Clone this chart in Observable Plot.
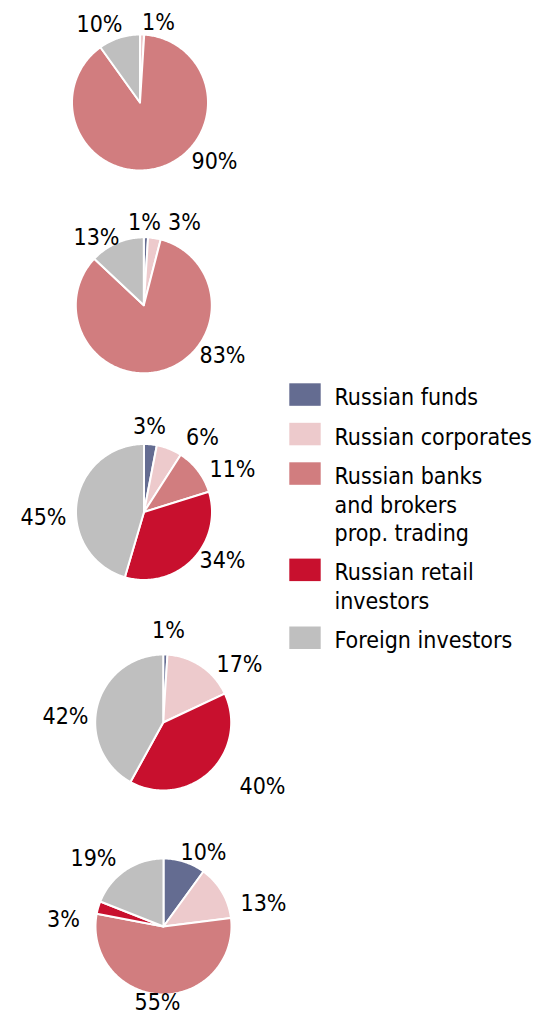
<!DOCTYPE html>
<html><head><meta charset="utf-8">
<script src="https://cdn.jsdelivr.net/npm/d3@7"></script>
<script src="https://cdn.jsdelivr.net/npm/@observablehq/plot@0.6"></script>
<style>
html,body{margin:0;padding:0;background:#fff;}
#chart svg{display:block;font-stretch:condensed;}
</style></head><body><div id="chart"></div>
<script>
// ---- data ----
const categories = ["Russian funds", "Russian corporates", "Russian banks and brokers prop. trading", "Russian retail investors", "Foreign investors"];
const legendLabels = ["Russian funds", "Russian corporates", "Russian banks\nand brokers\nprop. trading", "Russian retail\ninvestors", "Foreign investors"];
const colors = ["#646c91", "#edcacc", "#d17d7f", "#c8102e", "#bfbfbf"];
const pie1 = [0, 1, 90, 0, 10];
const pie2 = [1, 3, 83, 0, 13];
const pie3 = [3, 6, 11, 34, 45];
const pie4 = [1, 17, 0, 40, 42];
const pie5 = [10, 13, 55, 3, 19];
const pies = [pie1, pie2, pie3, pie4, pie5];

// ---- layout ----
const W = 537, H = 1016, R = 68;
const FONT = "'DejaVu Sans Condensed', 'DejaVu Sans', sans-serif";
const centers = [[139.5, 102], [143.3, 304.8], [143.5, 511.5], [162.7, 722], [163, 926]];
const labelOffsets = [
  [null, [18.5, -80], [74.5, 59], null, [-40.5, -78]],
  [[0.7, -82.8], [40.7, -82.8], [78.7, 50.2], null, [-47.3, -67.8]],
  [[5.5, -85.5], [58.5, -74.5], [88.5, -42.5], [78.5, 48.5], [-100.5, 5.5]],
  [[5.3, -92], [76.3, -58], null, [99.3, 64], [-97.7, -6]],
  [[40, -74], [100, -23], [-6, 76], [-100, -7], [-70, -68]]
];
const legendX = 289.3, legendW = 31.4, legendH = 22.5, legendTop = 383.3, legendStep = 39.5, lineStep = 28.4;

// ---- geometry from data ----
const slicePts = [];
const labelRows = [];
pies.forEach((vals, p) => {
  const [cx, cy] = centers[p];
  const arcs = d3.pie().sort(null).value(d => d)(vals);
  arcs.forEach((a, i) => {
    if (a.value <= 0) return;
    const id = p + "-" + i;
    slicePts.push({id, cat: categories[i], x: cx, y: cy});
    const n = Math.max(2, Math.ceil((a.endAngle - a.startAngle) / (Math.PI / 180)));
    for (let k = 0; k <= n; k++) {
      const t = a.startAngle + (a.endAngle - a.startAngle) * k / n;
      slicePts.push({id, cat: categories[i], x: cx + R * Math.sin(t), y: cy - R * Math.cos(t)});
    }
    slicePts.push({id, cat: categories[i], x: cx, y: cy});
    const off = labelOffsets[p][i];
    if (off) labelRows.push({x: cx + off[0], y: cy + off[1], text: Math.round(a.value) + "%"});
  });
});

const legendRows = [];
let rowTop = legendTop;
categories.forEach((c, i) => {
  const lines = legendLabels[i].split("\n").length;
  legendRows.push({cat: c, label: legendLabels[i], top: rowTop});
  rowTop += legendStep + (lines - 1) * lineStep;
});

const chart = Plot.plot({
  width: W, height: H, margin: 0,
  style: {fontFamily: FONT, background: "#fff"},
  x: {domain: [0, W], range: [0, W], axis: null},
  y: {domain: [0, H], range: [0, H], axis: null},
  color: {domain: categories, range: colors},
  marks: [
    Plot.line(slicePts, {x: "x", y: "y", z: "id", fill: "cat", stroke: "#fff", strokeWidth: 2, strokeLinejoin: "round", curve: "linear"}),
    Plot.text(labelRows, {x: "x", y: "y", text: "text", fontSize: 23, fill: "#000", fontFamily: FONT}),
    Plot.rect(legendRows, {x1: d => legendX, x2: d => legendX + legendW, y1: d => d.top, y2: d => d.top + legendH, fill: "cat"}),
    Plot.text(legendRows, {x: d => 334, y: d => d.top + 1.2, text: "label", textAnchor: "start", lineAnchor: "top", lineHeight: lineStep / 23, fontSize: 23, fill: "#000", fontFamily: FONT})
  ]
});
document.getElementById("chart").appendChild(chart);
</script></body></html>
